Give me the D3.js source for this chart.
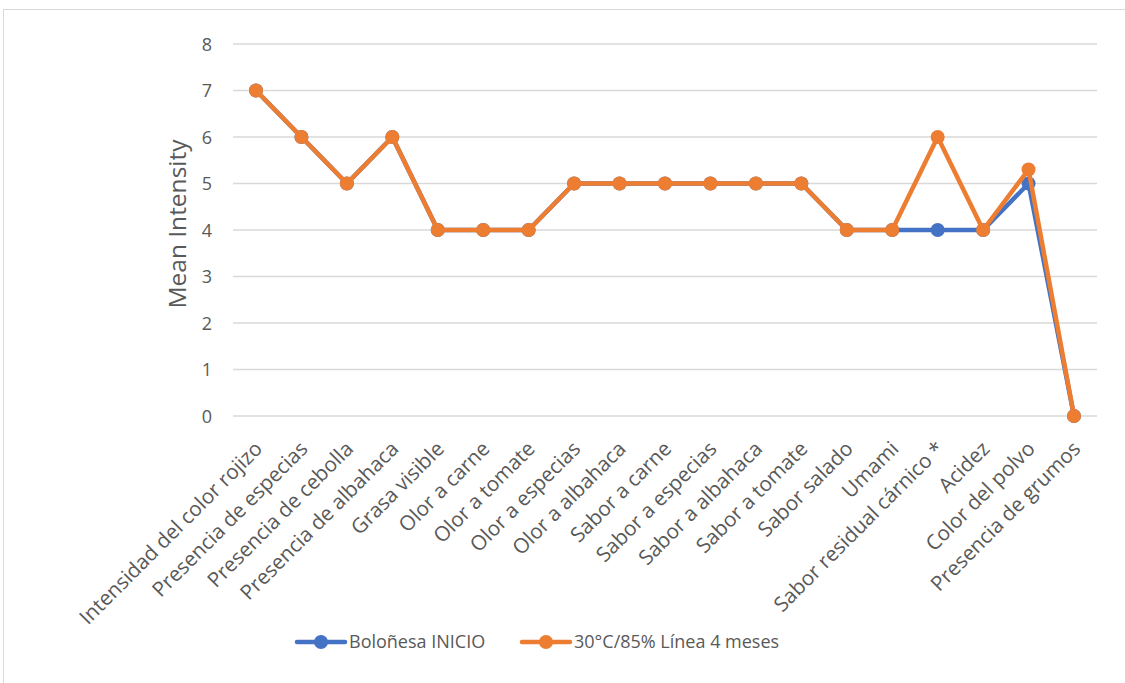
<!DOCTYPE html>
<html>
<head>
<meta charset="utf-8">
<script src="https://cdn.jsdelivr.net/npm/d3@7"></script>
<style>
  html, body { margin: 0; padding: 0; background: #fff; }
  svg { display: block; }
  text { font-family: "Open Sans", "Noto Sans", sans-serif; fill: #595959; }
</style>
</head>
<body>
<svg id="chart" width="1125" height="683"></svg>
<script>
// Sensory attributes evaluated
const categories = [
  "Intensidad del color rojizo", "Presencia de especias", "Presencia de cebolla",
  "Presencia de albahaca", "Grasa visible", "Olor a carne", "Olor a tomate",
  "Olor a especias", "Olor a albahaca", "Sabor a carne", "Sabor a especias",
  "Sabor a albahaca", "Sabor a tomate", "Sabor salado", "Umami",
  "Sabor residual cárnico *", "Acidez", "Color del polvo", "Presencia de grumos"
];
const seriesNames = ["Boloñesa INICIO", "30°C/85% Línea 4 meses"];
const inicioValues = [7, 6, 5, 6, 4, 4, 4, 5, 5, 5, 5, 5, 5, 4, 4, 4, 4, 5, 0];
const mesesValues  = [7, 6, 5, 6, 4, 4, 4, 5, 5, 5, 5, 5, 5, 4, 4, 6, 4, 5.3, 0];
const yTicks = [0, 1, 2, 3, 4, 5, 6, 7, 8];
const colors = ["#4472C4", "#ED7D31"];

const svg = d3.select("#chart");

// Outer chart frame
svg.append("rect")
  .attr("x", 3.5).attr("y", 9.5)
  .attr("width", 1140).attr("height", 700)
  .attr("fill", "none").attr("stroke", "#d9d9d9").attr("stroke-width", 1);

const plot = { left: 233, right: 1097, top: 44, bottom: 416 };

const x = d3.scalePoint()
  .domain(categories)
  .range([256, 1074]);

const y = d3.scaleLinear()
  .domain([0, 8])
  .range([plot.bottom, plot.top]);

// Horizontal gridlines
svg.append("g")
  .selectAll("line")
  .data(yTicks)
  .join("line")
  .attr("x1", plot.left).attr("x2", plot.right)
  .attr("y1", d => y(d)).attr("y2", d => y(d))
  .attr("stroke", "#d9d9d9").attr("stroke-width", 1.3);

// Y axis tick labels
const yAxis = d3.axisLeft(y).tickValues(yTicks).tickSize(0).tickPadding(0);
const yg = svg.append("g")
  .attr("transform", `translate(${plot.left - 21},0)`)
  .call(yAxis);
yg.select(".domain").remove();
yg.selectAll("text")
  .style("font-size", "18px")
  .style("font-family", "'Open Sans', sans-serif")
  .attr("fill", "#595959")
  .attr("dy", "0.35em");

// Y axis title
svg.append("text")
  .attr("transform", `translate(186,224) rotate(-90)`)
  .attr("text-anchor", "middle")
  .style("font-size", "24.5px")
  .text("Mean Intensity");

// X axis category labels, rotated
const xAxis = d3.axisBottom(x).tickSize(0).tickPadding(0);
const xg = svg.append("g")
  .attr("transform", `translate(0,${plot.bottom})`)
  .call(xAxis);
xg.select(".domain").remove();
xg.selectAll("text")
  .style("font-size", "20.6px")
  .style("font-family", "'Open Sans', sans-serif")
  .attr("fill", "#595959")
  .attr("text-anchor", "end")
  .attr("dy", "0.35em")
  .attr("transform", "translate(2,29) rotate(-45)");

// Series lines and markers
const allSeries = [inicioValues, mesesValues];
const line = d3.line()
  .x((d, i) => x(categories[i]))
  .y(d => y(d));

allSeries.forEach((vals, s) => {
  const g = svg.append("g");
  g.append("path")
    .datum(vals)
    .attr("d", line)
    .attr("fill", "none")
    .attr("stroke", colors[s])
    .attr("stroke-width", 4.5)
    .attr("stroke-linejoin", "round");
  g.selectAll("circle")
    .data(vals)
    .join("circle")
    .attr("cx", (d, i) => x(categories[i]))
    .attr("cy", d => y(d))
    .attr("r", 7)
    .attr("fill", colors[s]);
});

// Legend
const legendItems = [
  { name: seriesNames[0], color: colors[0], x: 297 },
  { name: seriesNames[1], color: colors[1], x: 522 }
];
const lg = svg.append("g");
legendItems.forEach(item => {
  const ly = 642;
  lg.append("line")
    .attr("x1", item.x).attr("x2", item.x + 48)
    .attr("y1", ly).attr("y2", ly)
    .attr("stroke", item.color).attr("stroke-width", 4.5)
    .attr("stroke-linecap", "round");
  lg.append("circle")
    .attr("cx", item.x + 24).attr("cy", ly).attr("r", 7)
    .attr("fill", item.color);
  lg.append("text")
    .attr("x", item.x + 52).attr("y", ly)
    .attr("dy", "0.35em")
    .style("font-size", "18px")
    .text(item.name);
});
</script>
</body>
</html>
